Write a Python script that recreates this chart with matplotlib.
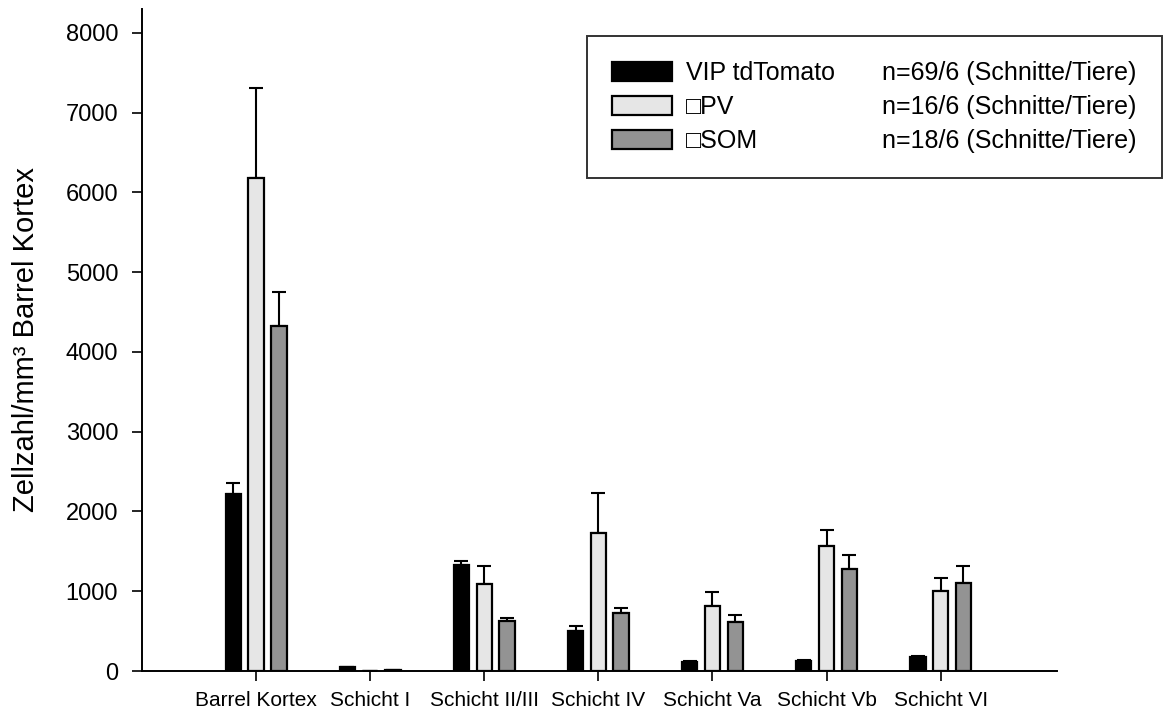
import matplotlib
matplotlib.use("Agg")
import matplotlib.pyplot as plt
from matplotlib.patches import Rectangle
import numpy as np

plt.rcParams['font.family'] = ['Liberation Sans', 'DejaVu Sans']

categories = ["Barrel Kortex", "Schicht I", "Schicht II/III", "Schicht IV",
              "Schicht Va", "Schicht Vb", "Schicht VI"]
series_names = ["VIP tdTomato", "\u25a1PV", "\u25a1SOM"]
n_labels = ["n=69/6 (Schnitte/Tiere)", "n=16/6 (Schnitte/Tiere)",
            "n=18/6 (Schnitte/Tiere)"]

vip_mean = [2220, 45, 1330, 500, 110, 125, 175]
vip_err = [140, 10, 50, 65, 10, 15, 10]
pv_mean = [6180, 3, 1090, 1730, 815, 1565, 1000]
pv_err = [1130, 0, 230, 500, 175, 200, 165]
som_mean = [4320, 15, 625, 730, 615, 1280, 1100]
som_err = [430, 0, 40, 60, 85, 175, 215]

colors = ["#000000", "#e6e6e6", "#939393"]
yticks = [0, 1000, 2000, 3000, 4000, 5000, 6000, 7000, 8000]

fig = plt.figure(figsize=(11.64, 7.15), dpi=100)
ax = fig.add_axes([142 / 1164, 1 - 671 / 715, (1057 - 142) / 1164, (671 - 9) / 715])

x = np.arange(len(categories))
width = 0.135
offsets = [-0.2, 0.0, 0.2]
means = [vip_mean, pv_mean, som_mean]
errs = [vip_err, pv_err, som_err]

for i in range(3):
    m = np.array(means[i], dtype=float)
    e = np.array(errs[i], dtype=float)
    ax.bar(x + offsets[i], m, width, color=colors[i], edgecolor="black",
           linewidth=1.6, zorder=2)
    ax.errorbar(x + offsets[i], m, yerr=[np.zeros_like(e), e], fmt="none",
                ecolor="black", elinewidth=1.5, capsize=4.8, capthick=1.5, zorder=1)

ax.set_xlim(-1, 7.02)
ax.set_ylim(0, 8300)
ax.set_yticks(yticks)
ax.set_yticklabels([str(v) for v in yticks])
ax.set_xticks(x)
ax.set_xticklabels(categories)

for s in ["top", "right"]:
    ax.spines[s].set_visible(False)
for s in ["left", "bottom"]:
    ax.spines[s].set_linewidth(1.4)

ax.tick_params(axis="y", direction="out", length=7.2, width=1.2, pad=10, labelsize=17)
ax.tick_params(axis="x", direction="out", length=7.2, width=1.2, pad=7, labelsize=15)
ax.set_ylabel("Zellzahl/mm\u00b3 Barrel Kortex", fontsize=21, labelpad=18)

blank = [Rectangle((0, 0), 1, 1, visible=False) for _ in range(3)]
leg = ax.legend([Rectangle((0, 0), 1, 1, facecolor=c, edgecolor="black", linewidth=1.6)
                 for c in colors] + blank,
                series_names + n_labels,
                ncol=2, fontsize=18, loc="upper right",
                bbox_to_anchor=(1162 / 1164, 1 - 36 / 715),
                bbox_transform=fig.transFigure, borderaxespad=0,
                handlelength=2.4, handleheight=0.8, handletextpad=0.56,
                columnspacing=-1.05, labelspacing=0.4, borderpad=1.0,
                frameon=True, fancybox=False, edgecolor="black")
leg.get_frame().set_linewidth(1.4)

fig.savefig("out.png", dpi=100)
